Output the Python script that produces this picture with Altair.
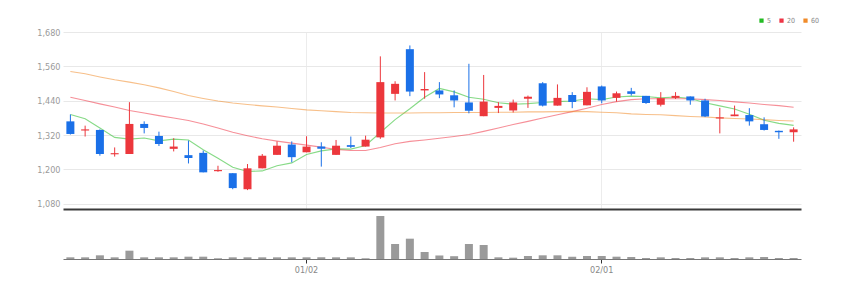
import altair as alt
import pandas as pd

# Daily candles (KRW) with volume and moving averages
dates = ["12/08", "12/09", "12/12", "12/13", "12/14", "12/15", "12/16", "12/19", "12/20", "12/21",
         "12/22", "12/23", "12/26", "12/27", "12/28", "12/29", "01/02", "01/03", "01/04", "01/05",
         "01/06", "01/09", "01/10", "01/11", "01/12", "01/13", "01/16", "01/17", "01/18", "01/19",
         "01/20", "01/25", "01/26", "01/27", "01/30", "01/31", "02/01", "02/02", "02/03", "02/06",
         "02/07", "02/08", "02/09", "02/10", "02/13", "02/14", "02/15", "02/16", "02/17", "02/20"]
opens = [1368, 1336, 1338, 1253, 1254, 1359, 1317, 1272, 1250, 1258,
         1194, 1187, 1131, 1204, 1251, 1287, 1260, 1280, 1251, 1285,
         1280, 1312, 1464, 1620, 1476, 1476, 1459, 1434, 1386, 1415,
         1406, 1447, 1501, 1423, 1460, 1424, 1490, 1450, 1473, 1457,
         1426, 1450, 1455, 1441, 1378, 1386, 1390, 1358, 1335, 1330]
highs = [1392, 1353, 1340, 1277, 1435, 1368, 1332, 1309, 1301, 1266,
         1213, 1187, 1219, 1254, 1298, 1298, 1316, 1295, 1303, 1315,
         1318, 1595, 1508, 1633, 1540, 1505, 1476, 1569, 1530, 1435,
         1444, 1458, 1505, 1497, 1470, 1487, 1493, 1472, 1485, 1457,
         1470, 1470, 1455, 1447, 1415, 1423, 1414, 1382, 1336, 1347]
lows = [1322, 1315, 1248, 1245, 1254, 1326, 1282, 1263, 1221, 1190,
        1192, 1131, 1128, 1204, 1251, 1225, 1260, 1210, 1251, 1275,
        1280, 1307, 1441, 1456, 1447, 1449, 1417, 1396, 1386, 1397,
        1399, 1415, 1420, 1423, 1414, 1424, 1431, 1437, 1458, 1429,
        1420, 1446, 1426, 1383, 1326, 1386, 1353, 1336, 1307, 1297]
closes = [1324, 1340, 1254, 1257, 1359, 1345, 1289, 1280, 1240, 1190,
          1198, 1135, 1204, 1248, 1283, 1243, 1280, 1272, 1283, 1279,
          1304, 1505, 1499, 1472, 1481, 1462, 1441, 1405, 1437, 1422,
          1434, 1454, 1423, 1450, 1436, 1471, 1441, 1466, 1464, 1432,
          1449, 1457, 1441, 1385, 1382, 1392, 1368, 1338, 1330, 1340]
volumes = [42000, 42000, 92000, 42000, 208000, 42000, 42000, 42000, 58000, 58000,
           18000, 42000, 42000, 42000, 42000, 42000, 42000, 42000, 42000, 42000,
           18000, 1075000, 375000, 508000, 175000, 88000, 70000, 375000, 350000, 42000,
           33000, 75000, 92000, 92000, 58000, 75000, 75000, 58000, 50000, 25000,
           42000, 25000, 25000, 42000, 42000, 25000, 42000, 50000, 25000, 25000]
ma5 = [1392, 1377, 1345, 1312, 1306, 1310, 1300, 1306, 1303, 1269,
       1239, 1208, 1193, 1195, 1213, 1223, 1252, 1265, 1272, 1271,
       1284, 1329, 1374, 1412, 1452, 1483, 1471, 1452, 1445, 1433,
       1428, 1430, 1434, 1437, 1439, 1447, 1444, 1453, 1456, 1455,
       1450, 1453, 1448, 1433, 1422, 1411, 1393, 1372, 1361, 1354]
ma20 = [1452, 1441, 1429, 1418, 1406, 1397, 1388, 1380, 1371, 1359,
        1345, 1330, 1318, 1307, 1299, 1292, 1285, 1278, 1270, 1266,
        1266, 1277, 1290, 1298, 1303, 1309, 1315, 1322, 1333, 1345,
        1357, 1368, 1380, 1391, 1402, 1414, 1427, 1437, 1444, 1447,
        1447, 1447, 1447, 1444, 1441, 1436, 1432, 1427, 1423, 1417]
ma60 = [1542, 1534, 1523, 1513, 1505, 1496, 1485, 1472, 1458, 1448,
        1439, 1432, 1427, 1422, 1418, 1413, 1408, 1405, 1402, 1399,
        1398, 1397, 1397, 1397, 1398, 1398, 1399, 1399, 1399, 1400,
        1400, 1401, 1401, 1402, 1403, 1402, 1400, 1398, 1394, 1392,
        1391, 1388, 1385, 1383, 1380, 1378, 1376, 1374, 1371, 1369]

ma_names = ["5", "20", "60"]
ma_colors = ["#22bb22", "#ee3344", "#f08a28"]
candle_dirs = ["up", "down"]
candle_colors = ["#ec373c", "#1a70e8"]
price_ticks = [1080, 1200, 1320, 1440, 1560, 1680]
month_ticks = ["01/02", "02/01"]

FONT = "Liberation Sans Narrow, DejaVu Sans Condensed, Roboto, sans-serif"
PLOT_W = 738

candles = pd.DataFrame({
    "date": dates, "open": opens, "high": highs, "low": lows,
    "close": closes, "volume": volumes,
})
candles["dir"] = ["up" if c >= o else "down" for o, c in zip(opens, closes)]

ma_frames = []
for name, series in zip(ma_names, [ma5, ma20, ma60]):
    ma_frames.append(pd.DataFrame({"date": dates, "ma": name, "value": series}))
mas = pd.concat(ma_frames, ignore_index=True)

x_scale = alt.Scale(type="band", domain=dates, paddingInner=0, paddingOuter=0)

x_top = alt.X(
    "date:N", scale=x_scale,
    axis=alt.Axis(values=month_ticks, labels=False, ticks=False, grid=True,
                  gridColor="#ececec", domainColor="#3a3a3a", domainWidth=2,
                  bandPosition=0.5, title=None, minExtent=0, maxExtent=0),
)
price_scale = alt.Scale(domain=[1062, 1680], nice=False, zero=False)
price_axis = alt.Axis(values=price_ticks, format=",d", title=None, ticks=False,
                      domain=False, gridColor="#e8e8e8", labelColor="#9a9a9a",
                      labelFontSize=9, labelPadding=3, minExtent=58, maxExtent=58)
dir_color = alt.Color("dir:N", scale=alt.Scale(domain=candle_dirs, range=candle_colors),
                      legend=None)

wicks = alt.Chart(candles).mark_rule(strokeWidth=1).encode(
    x=x_top,
    y=alt.Y("low:Q", scale=price_scale, axis=price_axis),
    y2="high:Q",
    color=dir_color,
)
bodies = alt.Chart(candles).mark_bar(size=8).encode(
    x=x_top,
    y=alt.Y("open:Q", scale=price_scale, axis=price_axis),
    y2="close:Q",
    color=dir_color,
)
ma_lines = alt.Chart(mas).mark_line(strokeWidth=1.1, opacity=0.55).encode(
    x=x_top,
    y=alt.Y("value:Q", scale=price_scale, axis=price_axis),
    color=alt.Color(
        "ma:N", sort=ma_names,
        scale=alt.Scale(domain=ma_names, range=ma_colors),
        legend=alt.Legend(orient="none", legendX=695, legendY=-15, direction="horizontal",
                          title=None, symbolType="square", symbolSize=5,
                          symbolOpacity=1, symbolStrokeWidth=2,
                          labelFontSize=7, labelColor="#888888", labelOffset=2,
                          columnPadding=4, padding=0),
    ),
    detail="ma:N",
)

price = alt.layer(ma_lines, wicks, bodies).resolve_scale(color="independent").properties(
    width=PLOT_W, height=177
)

volume = alt.Chart(candles).mark_bar(size=8, color="#9a9a9a").encode(
    x=alt.X("date:N", scale=x_scale,
            axis=alt.Axis(values=month_ticks, title=None, labelColor="#888888",
                          labelFontSize=9, tickColor="#333333", tickSize=4,
                          domainColor="#777777", grid=False, labelPadding=2,
                          bandPosition=0.5, labelAngle=0)),
    y=alt.Y("volume:Q", scale=alt.Scale(domain=[0, 1200000], nice=False),
            axis=alt.Axis(labels=False, ticks=False, domain=False, grid=False,
                          title=None, minExtent=58, maxExtent=58)),
).properties(width=PLOT_W, height=48)

chart = alt.vconcat(price, volume, spacing=2).properties(
    padding={"left": 5, "top": 17, "right": 5, "bottom": 5},
    background="white",
).configure_view(stroke=None).configure_axis(
    labelFont=FONT
).configure_legend(labelFont=FONT)

chart.save("out.html", embed_options={"renderer": "svg", "actions": False})
